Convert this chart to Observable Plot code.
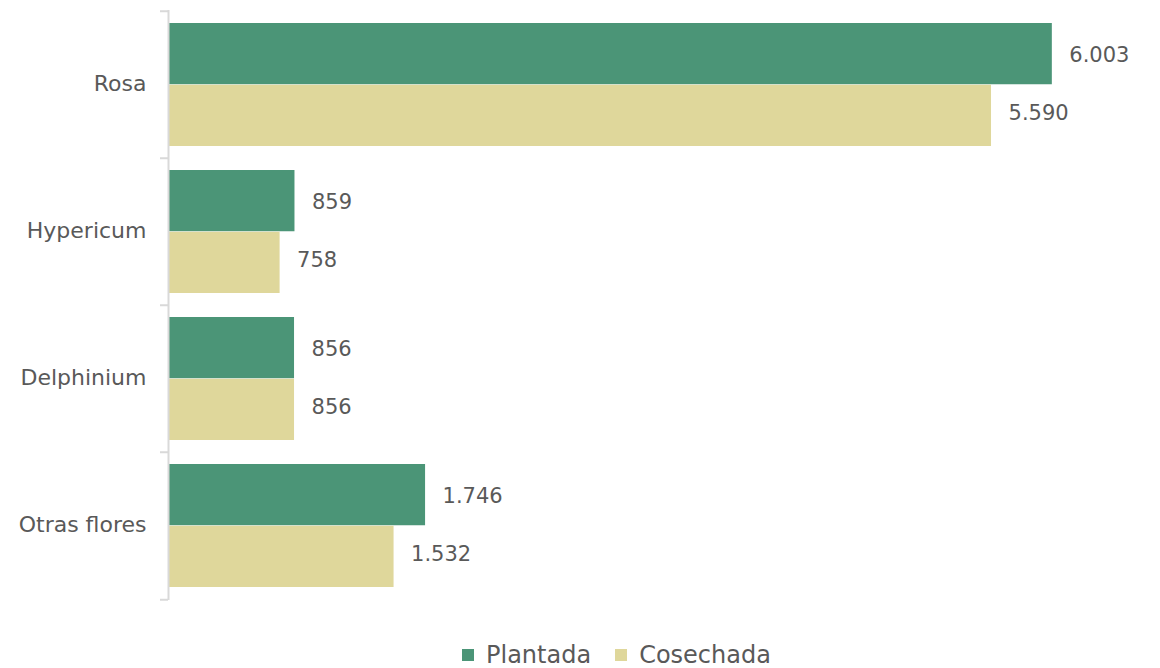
<!DOCTYPE html>
<html>
<head>
<meta charset="utf-8">
<script src="https://cdn.jsdelivr.net/npm/d3@7"></script>
<script src="https://cdn.jsdelivr.net/npm/@observablehq/plot@0.6"></script>
<style>
  html, body { margin: 0; padding: 0; background: #fff; }
  #chart svg { display: block; }
  #legend { padding-left: 462px; padding-top: 26px; }
</style>
</head>
<body>
<div id="chart"></div>
<div id="legend"></div>
<script>
const categories = ["Rosa", "Hypericum", "Delphinium", "Otras flores"];
const series = ["Plantada", "Cosechada"];
const plantada = [6003, 859, 856, 1746];
const cosechada = [5590, 758, 856, 1532];
const colors = ["#4b9577", "#dfd79b"];

const font = "'DejaVu Sans', sans-serif";
const textColor = "#595959";
const fmt = d3.formatLocale({decimal: ",", thousands: ".", grouping: [3], currency: ["", ""]}).format(",");

const rows = [];
categories.forEach((c, i) => {
  rows.push({category: c, series: series[0], value: plantada[i]});
  rows.push({category: c, series: series[1], value: cosechada[i]});
});
const P = rows.filter(d => d.series === series[0]);
const C = rows.filter(d => d.series === series[1]);
const bandH = 147.5;

const chart = Plot.plot({
  width: 1160,
  height: 612,
  marginLeft: 168,
  marginRight: 35,
  marginTop: 10,
  marginBottom: 12,
  style: {fontFamily: font, color: textColor, background: "#fff"},
  x: {domain: [0, 6500], axis: null},
  y: {domain: categories, padding: 0, label: null},
  color: {domain: series, range: colors},
  marks: [
    Plot.barX(P, {x: "value", y: "category", fill: "series", insetTop: 12, insetBottom: bandH / 2}),
    Plot.barX(C, {x: "value", y: "category", fill: "series", insetTop: bandH / 2, insetBottom: 12}),
    Plot.ruleX([0], {stroke: "#d9d9d9", strokeWidth: 2}),
    Plot.ruleY(categories, {y: d => d, x1: 0, x2: 0, insetLeft: -8, dy: -bandH / 2, stroke: "#d9d9d9", strokeWidth: 2}),
    Plot.ruleY(categories.slice(-1), {y: d => d, x1: 0, x2: 0, insetLeft: -8, dy: bandH / 2, stroke: "#d9d9d9", strokeWidth: 2}),
    Plot.text(P, {x: "value", y: "category", text: d => fmt(d.value), dx: 17, dy: -30, textAnchor: "start", fill: textColor, fontSize: 21}),
    Plot.text(C, {x: "value", y: "category", text: d => fmt(d.value), dx: 17, dy: 28, textAnchor: "start", fill: textColor, fontSize: 21}),
    Plot.axisY({tickSize: 0, tickPadding: 22, fontSize: 22, fill: textColor, label: null, dy: -1.5})
  ]
});
document.getElementById("chart").appendChild(chart);

const legend = Plot.legend({
  color: {domain: series, range: colors, type: "categorical"},
  swatchSize: 12,
  style: {fontFamily: font, fontSize: "24px", color: textColor, marginLeft: 0}
});
document.getElementById("legend").appendChild(legend);
</script>
</body>
</html>
